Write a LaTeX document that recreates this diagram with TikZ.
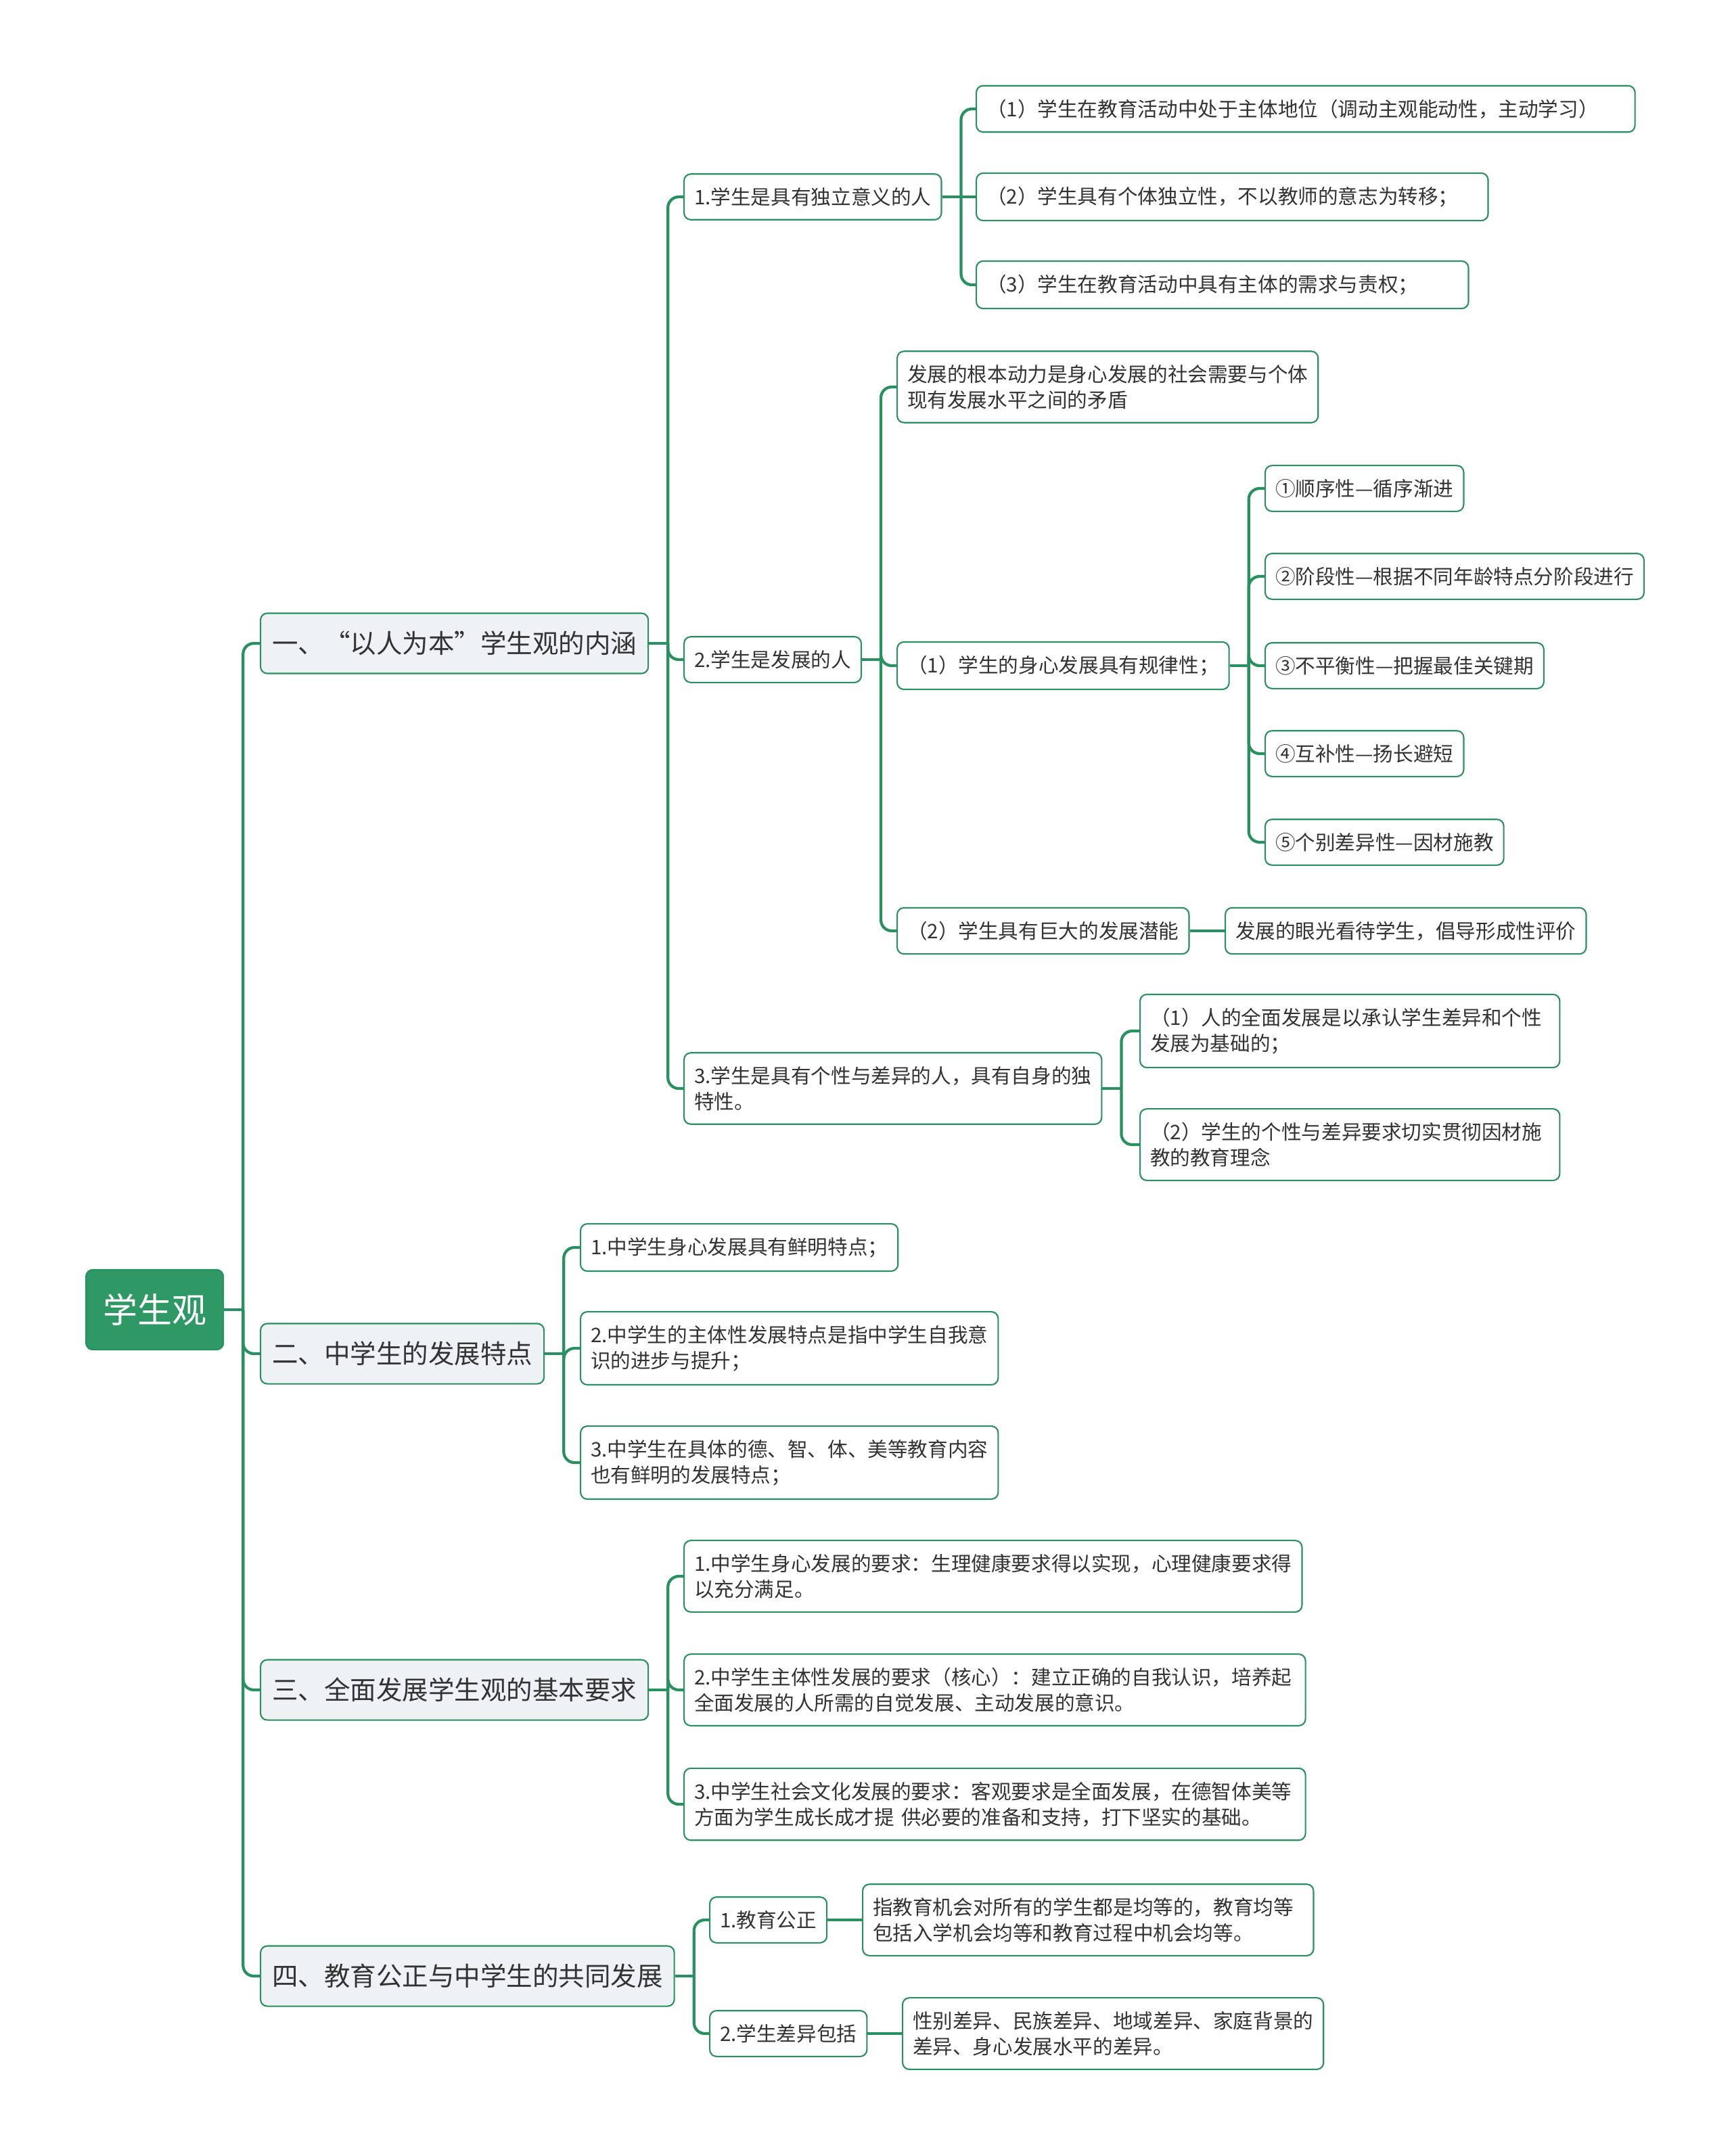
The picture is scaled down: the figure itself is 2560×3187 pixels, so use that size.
\documentclass[tikz,border=0pt]{standalone}
\usepackage{fontspec}
\setmainfont{Noto Sans CJK SC}
\usetikzlibrary{positioning}
\definecolor{mmgreen}{RGB}{40,145,95}
\definecolor{mmroot}{RGB}{46,153,101}
\definecolor{mmgrey}{RGB}{238,242,245}
\definecolor{mmtext}{RGB}{51,51,51}
\tikzset{
  root/.style={draw=mmgreen,fill=mmroot,text=white,rounded corners=0.1cm,line width=0.6pt,font=\fontsize{14.5}{17}\selectfont,minimum width=2.03cm,minimum height=1.18cm,inner sep=0pt,anchor=west},
  topic/.style={draw=mmgreen,fill=mmgrey,text=mmtext,rounded corners=0.1cm,line width=0.6pt,font=\fontsize{10.95}{13}\selectfont,minimum height=0.89cm,inner xsep=0.17cm,inner ysep=0pt,anchor=west},
  leaf/.style={draw=mmgreen,fill=white,text=mmtext,rounded corners=0.1cm,line width=0.6pt,font=\fontsize{8.42}{10.8}\selectfont,minimum height=0.67cm,inner xsep=0.15cm,inner ysep=0.2cm,align=left,anchor=west},
  link/.style={draw=mmgreen,line width=1.2pt,rounded corners=0.16cm}
}
\begin{document}
\begin{tikzpicture}[x=0.01cm,y=-0.01cm]
\fill[white] (0,0) rectangle (2560,3187);
\useasboundingbox (0,0) rectangle (2560,3187);
\node[root] (r) at (126,1936) {学生观};
\node[topic] (a) at (384,951) {一、“以人为本”学生观的内涵};
\node[topic] (b) at (384,2001) {二、中学生的发展特点};
\node[topic] (c) at (384,2498) {三、全面发展学生观的基本要求};
\node[topic] (d) at (384,2921) {四、教育公正与中学生的共同发展};
\node[leaf] (a1) at (1010,291) {1.学生是具有独立意义的人};
\node[leaf] (a2) at (1010,975) {2.学生是发展的人};
\node[leaf] (a3) at (1010,1609) {3.学生是具有个性与差异的人，具有自身的独\\特性。};
\node[leaf,text width=9.43cm] (a11) at (1442,161) {（1）学生在教育活动中处于主体地位（调动主观能动性，主动学习）};
\node[leaf,text width=7.26cm] (a12) at (1442,291) {（2）学生具有个体独立性，不以教师的意志为转移；};
\node[leaf,text width=6.97cm] (a13) at (1442,421) {（3）学生在教育活动中具有主体的需求与责权；};
\node[leaf] (a21) at (1325,572) {发展的根本动力是身心发展的社会需要与个体\\现有发展水平之间的矛盾};
\node[leaf] (a22) at (1325,984) {（1）学生的身心发展具有规律性；};
\node[leaf] (a23) at (1325,1376) {（2）学生具有巨大的发展潜能};
\node[leaf] (a221) at (1869,722) {①顺序性—循序渐进};
\node[leaf] (a222) at (1869,852) {②阶段性—根据不同年龄特点分阶段进行};
\node[leaf] (a223) at (1869,984) {③不平衡性—把握最佳关键期};
\node[leaf] (a224) at (1869,1114) {④互补性—扬长避短};
\node[leaf] (a225) at (1869,1245) {⑤个别差异性—因材施教};
\node[leaf] (a231) at (1810,1376) {发展的眼光看待学生，倡导形成性评价};
\node[leaf,text width=5.9cm] (a31) at (1684,1524) {（1）人的全面发展是以承认学生差异和个性\\发展为基础的；};
\node[leaf,text width=5.9cm] (a32) at (1684,1692) {（2）学生的个性与差异要求切实贯彻因材施\\教的教育理念};
\node[leaf] (b1) at (857,1844) {1.中学生身心发展具有鲜明特点；};
\node[leaf] (b2) at (857,1993) {2.中学生的主体性发展特点是指中学生自我意\\识的进步与提升；};
\node[leaf] (b3) at (857,2162) {3.中学生在具体的德、智、体、美等教育内容\\也有鲜明的发展特点；};
\node[leaf] (c1) at (1010,2330) {1.中学生身心发展的要求：生理健康要求得以实现，心理健康要求得\\以充分满足。};
\node[leaf,text width=8.88cm] (c2) at (1010,2498) {2.中学生主体性发展的要求（核心）：建立正确的自我认识，培养起\\全面发展的人所需的自觉发展、主动发展的意识。};
\node[leaf,text width=8.88cm] (c3) at (1010,2667) {3.中学生社会文化发展的要求：客观要求是全面发展，在德智体美等\\方面为学生成长成才提 供必要的准备和支持，打下坚实的基础。};
\node[leaf] (d1) at (1048,2838) {1.教育公正};
\node[leaf] (d2) at (1048,3006) {2.学生差异包括};
\node[leaf,text width=6.36cm] (d11) at (1274,2838) {指教育机会对所有的学生都是均等的，教育均等\\包括入学机会均等和教育过程中机会均等。};
\node[leaf] (d21) at (1333,3006) {性别差异、民族差异、地域差异、家庭背景的\\差异、身心发展水平的差异。};
\foreach \p/\c in {r/a,r/b,r/c,r/d,a/a1,a/a2,a/a3,a1/a11,a1/a13,a2/a21,a2/a22,a2/a23,
  a22/a221,a22/a222,a22/a223,a22/a224,a22/a225,a3/a31,a3/a32,
  b/b1,b/b2,b/b3,c/c1,c/c2,c/c3,d/d1,d/d2}{
  \draw[link] (\p.east) -- ++(28,0);
  \draw[link] (\p.east) ++(28,0) |- (\c.west);
}
\foreach \p/\c in {a1/a12,a23/a231,d1/d11,d2/d21}
  \draw[link] (\p.east) -- (\c.west);
\end{tikzpicture}
\end{document}
